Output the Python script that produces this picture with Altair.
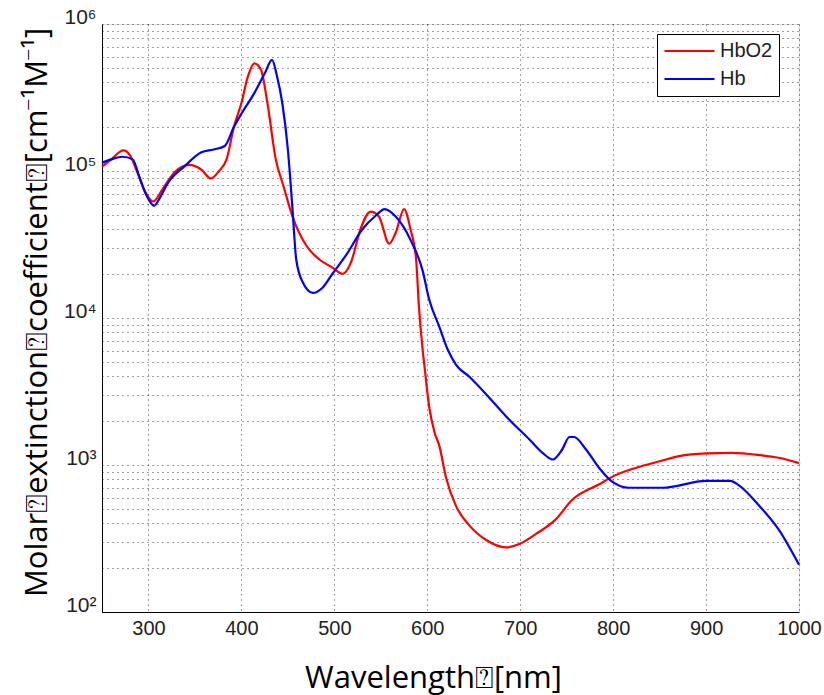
import altair as alt
import pandas as pd

# HbO2 (red) series
hbo2_nm = [250, 260, 273, 280, 288, 296, 305, 315, 328, 344, 357, 367, 376, 384, 392, 400, 407, 414,
           421, 428, 437, 445, 455, 470, 484, 498, 509, 518, 528, 539, 548, 559, 566, 575, 582, 588,
           591, 595, 597, 602, 608, 613, 620, 631, 645, 663, 685, 699, 717, 738, 756, 785, 802, 835,
           850, 871, 900, 928, 957, 978, 1000]
hbo2_val = [1.07e5, 1.2e5, 1.38e5, 1.28e5, 9.8e4, 7.3e4, 6.2e4, 7.5e4, 9.8e4, 1.1e5, 1.02e5, 8.9e4,
            1.0e5, 1.2e5, 2.0e5, 2.9e5, 4.4e5, 5.4e5, 4.9e5, 2.9e5, 1.2e5, 8.0e4, 4.9e4, 3.1e4, 2.5e4,
            2.2e4, 2.0e4, 2.4e4, 4.0e4, 5.3e4, 4.9e4, 3.2e4, 3.8e4, 5.5e4, 4.0e4, 2.5e4, 1.2e4, 6.1e3,
            4.7e3, 2.5e3, 1.65e3, 1.35e3, 830, 525, 390, 310, 275, 290, 340, 425, 580, 740, 850, 1000,
            1060, 1150, 1200, 1210, 1170, 1120, 1030]

# Hb (blue) series
hb_nm = [250, 260, 272, 283, 290, 298, 306, 313, 321, 339, 357, 370, 382, 392, 400, 414, 425, 433,
         438, 444, 450, 455, 459, 466, 477, 487, 498, 513, 530, 545, 554, 566, 582, 595, 602, 613,
         622, 631, 645, 667, 688, 710, 724, 735, 745, 753, 758, 771, 785, 799, 817, 853, 900, 926,
         935, 957, 978, 1000]
hb_val = [1.14e5, 1.2e5, 1.25e5, 1.2e5, 9.2e4, 6.8e4, 5.8e4, 6.7e4, 8.3e4, 1.08e5, 1.34e5, 1.4e5,
          1.48e5, 2.0e5, 2.45e5, 3.4e5, 4.6e5, 5.7e5, 4.5e5, 2.9e5, 1.4e5, 5.5e4, 2.5e4, 1.75e4,
          1.48e4, 1.6e4, 2.0e4, 2.7e4, 4.0e4, 5.0e4, 5.5e4, 4.9e4, 3.4e4, 2.1e4, 1.34e4, 8.7e3,
          6.1e3, 4.8e3, 4.0e3, 2.86e3, 2.04e3, 1.49e3, 1.21e3, 1.09e3, 1.27e3, 1.55e3, 1.55e3,
          1.27e3, 955, 770, 700, 700, 780, 780, 730, 530, 365, 210]

series_names = ["HbO2", "Hb"]
series_colors = ["#ff0000", "#0000ff"]

x_ticks = [300, 400, 500, 600, 700, 800, 900, 1000]
y_ticks = [m * 10 ** e for e in range(2, 6) for m in range(1, 10)] + [10 ** 6]

x_title = "Wavelength\u2370[nm]"
y_title = "Molar\u2370extinction\u2370coefficient\u2370[cm\u207b\u00b9M\u207b\u00b9]"

df = pd.concat([
    pd.DataFrame({"nm": hbo2_nm, "val": hbo2_val, "series": series_names[0], "ord": 0}),
    pd.DataFrame({"nm": hb_nm, "val": hb_val, "series": series_names[1], "ord": 1}),
])

label_font = "Liberation Sans Narrow, Liberation Sans"
title_font = "Open Sans"

label_expr = ("datum.value==100?'10\u00b2':datum.value==1000?'10\u00b3':datum.value==10000?'10\u2074':"
              "datum.value==100000?'10\u2075':datum.value==1000000?'10\u2076':''")

chart = alt.Chart(df).mark_line(strokeWidth=2.2, interpolate="monotone").encode(
    x=alt.X("nm:Q", scale=alt.Scale(domain=[250, 1000], nice=False, zero=False),
            axis=alt.Axis(values=x_ticks, title=x_title, format="d", labelFont=label_font,
                          labelFontSize=20, labelColor="#222", labelPadding=6, ticks=False,
                          titleFont=title_font, titleFontSize=31, titleFontWeight="normal",
                          titleColor="#000", titleX=331, titleY=75, titleBaseline="alphabetic",
                          titleAlign="center", gridDash=[1, 4], gridColor="#000", gridOpacity=0.75,
                          domainColor="#000", labelFlush=False)),
    y=alt.Y("val:Q", scale=alt.Scale(type="log", domain=[100, 1e6], nice=False),
            axis=alt.Axis(values=y_ticks, labelExpr=label_expr, title=y_title, labelFont=label_font,
                          labelFontSize=21, labelColor="#222", labelPadding=6, ticks=False,
                          labelBaseline="alphabetic", labelOffset=-1,
                          titleFont=title_font, titleFontSize=31, titleFontWeight="normal",
                          titleColor="#000", titleX=-56, titleY=288, titleAngle=-90,
                          titleBaseline="alphabetic", titleAlign="center",
                          gridDash=[1, 4], gridColor="#000", gridOpacity=0.75, domainColor="#000",
                          labelFlush=False)),
    color=alt.Color("series:N", scale=alt.Scale(domain=series_names, range=series_colors),
                    legend=alt.Legend(title=None, orient="none", legendX=555, legendY=10,
                                      symbolType="stroke", symbolSize=2500, symbolStrokeWidth=2.2,
                                      clipHeight=22, rowPadding=6, labelFont=label_font,
                                      labelFontSize=20, labelColor="#222", strokeColor="#000",
                                      fillColor="#fff", padding=6, labelOffset=4)),
    order=alt.Order("ord:Q"),
    detail="series:N",
).properties(
    width=697, height=588,
    autosize=alt.AutoSizeParams(type="none"),
    padding={"left": 102, "top": 24, "right": 25, "bottom": 83},
).configure_view(stroke="#000", strokeWidth=1).configure(background="white")

chart.save("out.html", embed_options={"renderer": "svg", "actions": False})
